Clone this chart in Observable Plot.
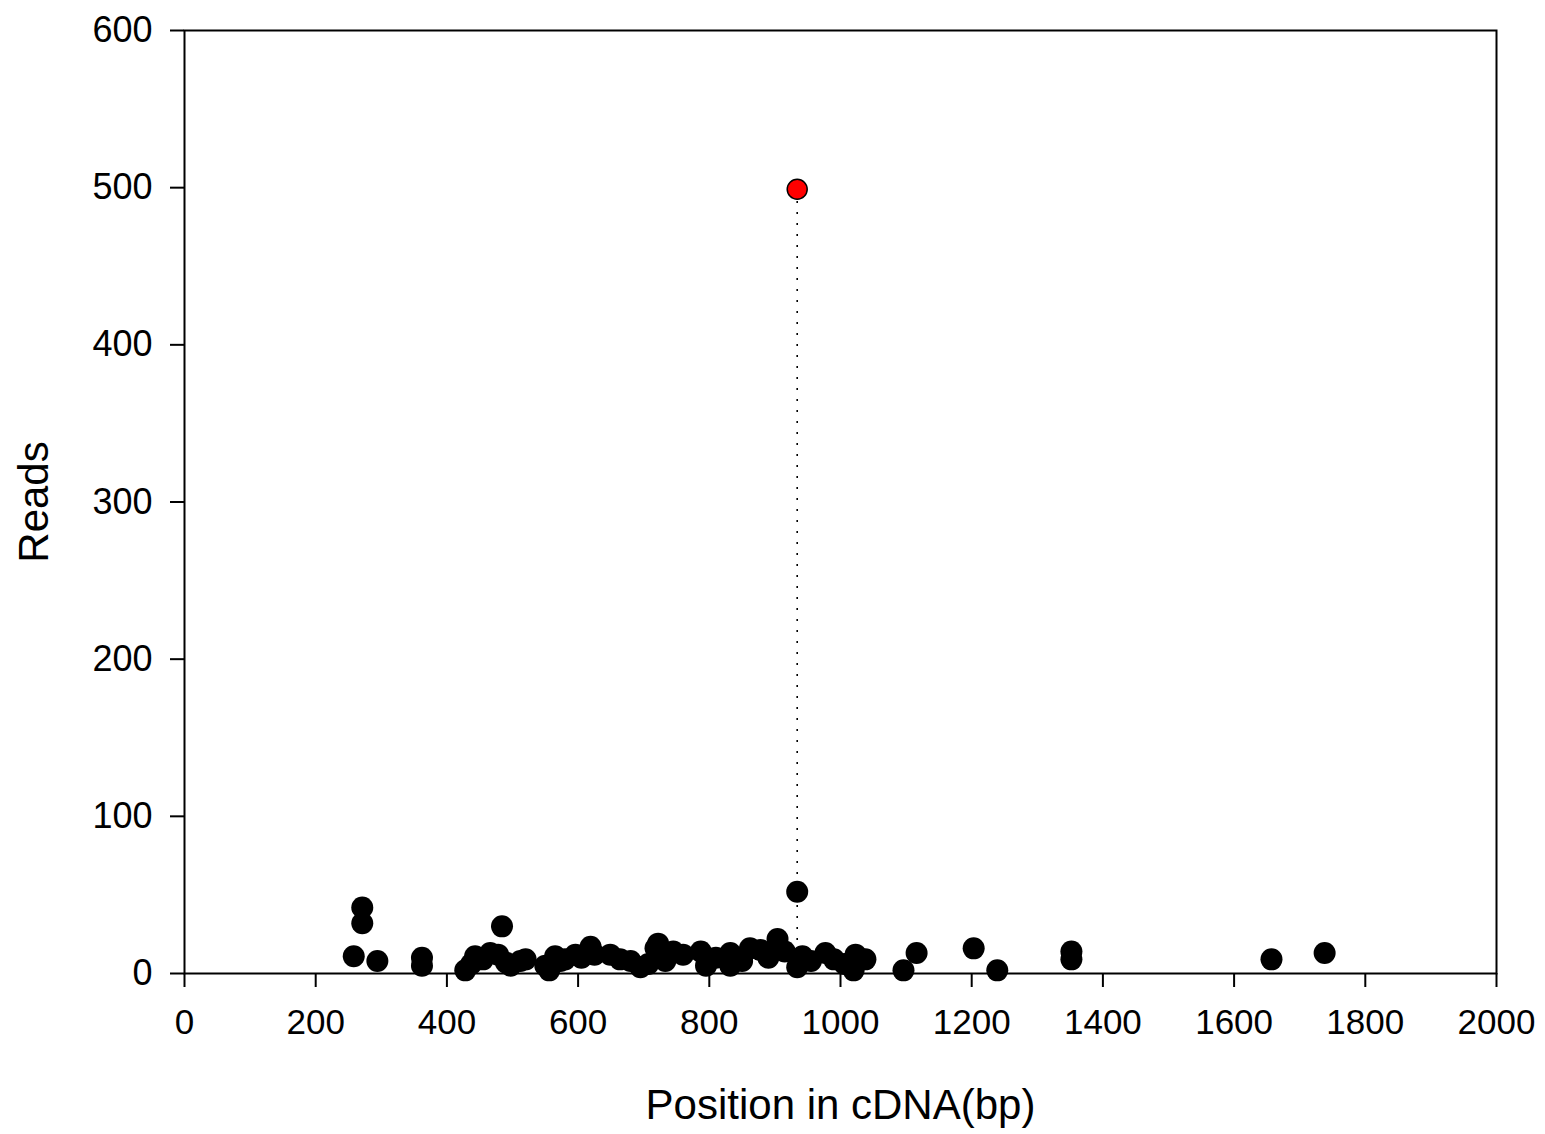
<!DOCTYPE html>
<html>
<head>
<meta charset="utf-8">
<script src="https://cdn.jsdelivr.net/npm/d3@7"></script>
<script src="https://cdn.jsdelivr.net/npm/@observablehq/plot@0.6"></script>
<style>
  html, body { margin: 0; padding: 0; background: #fff; }
  #chart svg { display: block; }
</style>
</head>
<body>
<div id="chart"></div>
<script>
const positions = [258,271,271,294,362,362,428,437,443,455,466,478,484,490,497,512,520,550,556,565,573,580,596,605,619,625,649,664,680,695,707,718,722,733,745,760,787,795,810,832,832,850,862,878,890,904,915,934,934,942,955,977,990,1006,1020,1023,1038,1096,1116,1203,1239,1352,1352,1657,1738];
const reads =     [11, 42, 32,  8, 10,  5,  2,  6, 11,  9, 13, 12, 30,  7,  5,  8,  9,  5,  2, 11,  8,  9, 12, 10, 17, 12, 12,  9,  8,  4,  6, 16, 19,  8, 14, 12, 14,  5, 10, 13,  5,  8, 16, 15, 10, 22, 14, 52,  4, 11,  8, 13,  9,  6,  2, 12,  9,  2, 13, 16,  2, 14,  9,  9, 13];
const peakPosition = [934];
const peakReads = [499];
const xTicks = [0,200,400,600,800,1000,1200,1400,1600,1800,2000];
const yTicks = [0,100,200,300,400,500,600];

const points = positions.map((p, i) => ({pos: p, reads: reads[i]}));
const peak = peakPosition.map((p, i) => ({pos: p, reads: peakReads[i]}));
const fmt = d3.format("d");

const chart = Plot.plot({
  width: 1545,
  height: 1134,
  marginLeft: 184,
  marginRight: 49,
  marginTop: 30,
  marginBottom: 161,
  style: {fontFamily: "'Liberation Sans', Arial, sans-serif", fontSize: "35px", color: "#000", background: "#fff"},
  x: {domain: [0, 2000]},
  y: {domain: [0, 600]},
  marks: [
    Plot.frame({stroke: "#000", strokeWidth: 2}),
    Plot.axisX({ticks: xTicks, tickFormat: fmt, tickSize: 14, tickPadding: 22, strokeWidth: 2, fontSize: 35, label: null}),
    Plot.axisY({ticks: yTicks, tickFormat: fmt, tickSize: 14, tickPadding: 18, strokeWidth: 2, fontSize: 36, label: null}),
    Plot.text(["Position in cDNA(bp)"], {frameAnchor: "bottom", textAnchor: "middle", dy: 145, fontSize: 42, text: d => d, fill: "#000"}),
    Plot.text(["Reads"], {frameAnchor: "left", textAnchor: "middle", dx: -150, rotate: -90, fontSize: 42, text: d => d, fill: "#000"}),
    Plot.ruleX(peak, {x: "pos", y1: 0, y2: "reads", stroke: "#000", strokeWidth: 1.6, strokeDasharray: "2,9"}),
    Plot.dot(points, {x: "pos", y: "reads", r: 11, fill: "#000", stroke: "none"}),
    Plot.dot(peak, {x: "pos", y: "reads", r: 10, fill: "#ff0000", stroke: "#000", strokeWidth: 1.5})
  ]
});
document.getElementById("chart").appendChild(chart);
</script>
</body>
</html>
